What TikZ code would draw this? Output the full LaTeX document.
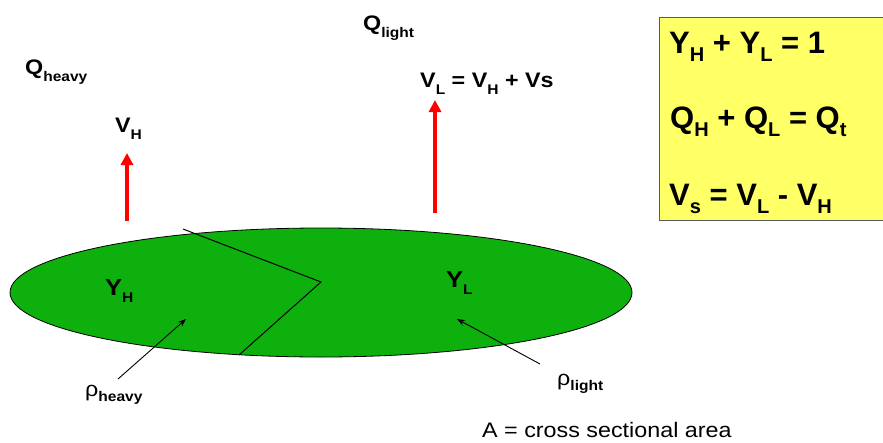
\documentclass[tikz,border=0pt]{standalone}
\usepackage{fontspec}
\setmainfont{Liberation Sans}
\newfontfamily\widefont[FakeStretch=1.11]{Liberation Sans}
\usetikzlibrary{arrows.meta,shapes.geometric}
\definecolor{blobgreen}{RGB}{14,176,14}
\definecolor{boxyellow}{RGB}{255,255,102}
\definecolor{arrowred}{RGB}{255,0,0}
\newcommand\lbl[2]{#1\raisebox{-7pt}{\fontsize{14}{14}\selectfont #2}}
\newcommand\blbl[2]{#1\raisebox{-8pt}{\fontsize{20}{20}\selectfont #2}}
\begin{document}
\begin{tikzpicture}[x=1pt,y=-1pt,
  lab/.style={font=\widefont\fontsize{21}{21}\selectfont\bfseries, inner sep=0pt, anchor=base west},
  boxlab/.style={font=\fontsize{31}{31}\selectfont\bfseries, inner sep=0pt, anchor=base west},
  redarrow/.style={draw=arrowred, line width=4pt, -{Triangle[width=12pt,length=12pt]}},
  thinarrow/.style={draw=black, line width=0.9pt, -{Stealth[width=6pt,length=8pt]}},
  divider/.style={draw=black, line width=1pt}]
\useasboundingbox (0,0) rectangle (883,442);
% yellow box
\fill[boxyellow] (659,17) rectangle (890,220);
\draw[gray!70!black, line width=1pt] (890,17) -- (659,17) -- (659,220) -- (890,220);
\node[boxlab] (eq1) at (669,53) {\blbl{Y}{H} + \blbl{Y}{L} = 1};
\node[boxlab] (eq2) at (670,128) {\blbl{Q}{H} + \blbl{Q}{L} = \blbl{Q}{t}};
\node[boxlab] (eq3) at (669,205) {\blbl{V}{s} = \blbl{V}{L} - \blbl{V}{H}};
% ellipse
\node[draw=black, line width=0.8pt, fill=blobgreen, ellipse, minimum width=622pt, minimum height=129pt, inner sep=0pt] (blob) at (321,292.5) {};
\coordinate (d1) at (183,229);
\coordinate (d2) at (321,282);
\coordinate (d3) at (239,355);
\draw[divider] (d1) -- (d2) -- (d3);
% labels
\node[lab] (qh) at (25,74) {\lbl{Q}{heavy}};
\node[lab] (ql) at (363,30) {\lbl{Q}{light}};
\node[lab] (vh) at (115,132) {\lbl{V}{H}};
\node[lab] (vl) at (420,87) {\lbl{V}{L} = \lbl{V}{H} + Vs};
\node[lab, font=\widefont\fontsize{23}{23}\selectfont\bfseries] (yh) at (105,295) {\lbl{Y}{H}};
\node[lab, font=\widefont\fontsize{23}{23}\selectfont\bfseries] (yl) at (446,287) {\lbl{Y}{L}};
\node[lab, font=\widefont\fontsize{21}{21}\selectfont] (rh) at (85,396) {ρ\raisebox{-5pt}{\fontsize{14}{14}\selectfont\bfseries heavy}};
\node[lab, font=\widefont\fontsize{21}{21}\selectfont] (rl) at (557,385) {ρ\raisebox{-5pt}{\fontsize{14}{14}\selectfont\bfseries light}};
\node[lab, font=\widefont\fontsize{21}{21}\selectfont] (area) at (482,437) {A = cross sectional area};
% red arrows
\coordinate (vhs) at (127,221);
\coordinate (vhe) at (127,153);
\coordinate (vls) at (435,213);
\coordinate (vle) at (435,100);
\draw[redarrow] (vhs) -- (vhe);
\draw[redarrow] (vls) -- (vle);
% pointer arrows
\coordinate (ph) at (118,379);
\coordinate (phe) at (186,319);
\coordinate (pl) at (540,364);
\coordinate (ple) at (457,319);
\draw[thinarrow] (ph) -- (phe);
\draw[thinarrow] (pl) -- (ple);
\end{tikzpicture}
\end{document}
